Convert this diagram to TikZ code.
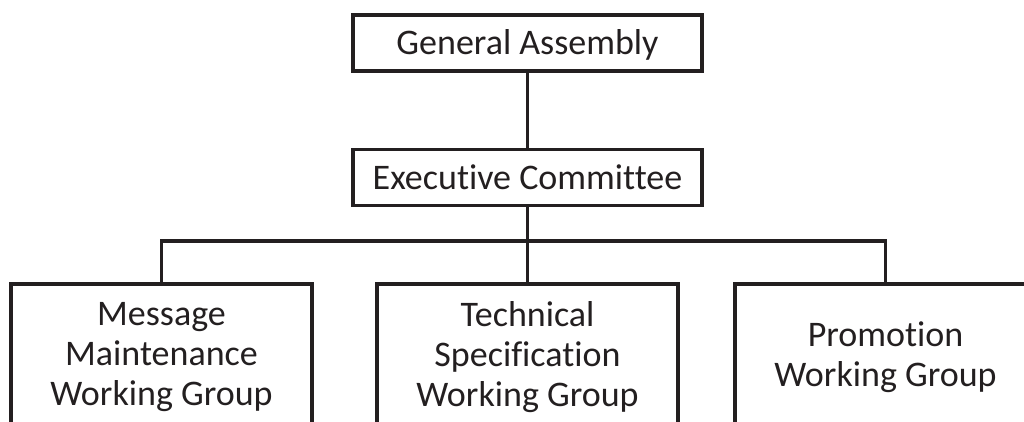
\documentclass[tikz,border=0pt]{standalone}
\usepackage{fontspec}
\setmainfont{Carlito}[Ligatures={NoCommon,NoRare,NoContextual}]
\definecolor{ink}{RGB}{35,31,32}
\begin{document}
\begin{tikzpicture}[x=1pt,y=-1pt,
  box/.style={draw=ink,line width=3.2pt,text=ink,font=\fontsize{36}{40}\selectfont,inner sep=0pt},
  topbox/.style={box,minimum width=349pt,minimum height=56pt,text height=23pt,text depth=0pt},
  wgbox/.style={box,minimum width=301pt,minimum height=146pt,align=center},
  link/.style={draw=ink,line width=3.2pt}]
\useasboundingbox (0,0) rectangle (1024,421);
\clip (0,0) rectangle (1024,421);
\node[topbox] (ga) at (527.5,43) {General Assembly};
\node[topbox] (ec) at (527.5,177.5) {Executive Committee};
\node[wgbox] (mm) at (161.5,357) {Message\\Maintenance\\Working Group};
\node[wgbox] (ts) at (527.5,357) {Technical\\Specification\\Working Group};
\node[wgbox] (pr) at (885.5,357) {Promotion\\Working Group};
\coordinate (j) at (527.5,241);
\draw[link] (ga.south) -- (ec.north);
\draw[link] (ec.south) -- (j);
\draw[link] (j) -- (ts.north);
\draw[link] (j) -| (mm.north);
\draw[link] (j) -| (pr.north);
\end{tikzpicture}
\end{document}
